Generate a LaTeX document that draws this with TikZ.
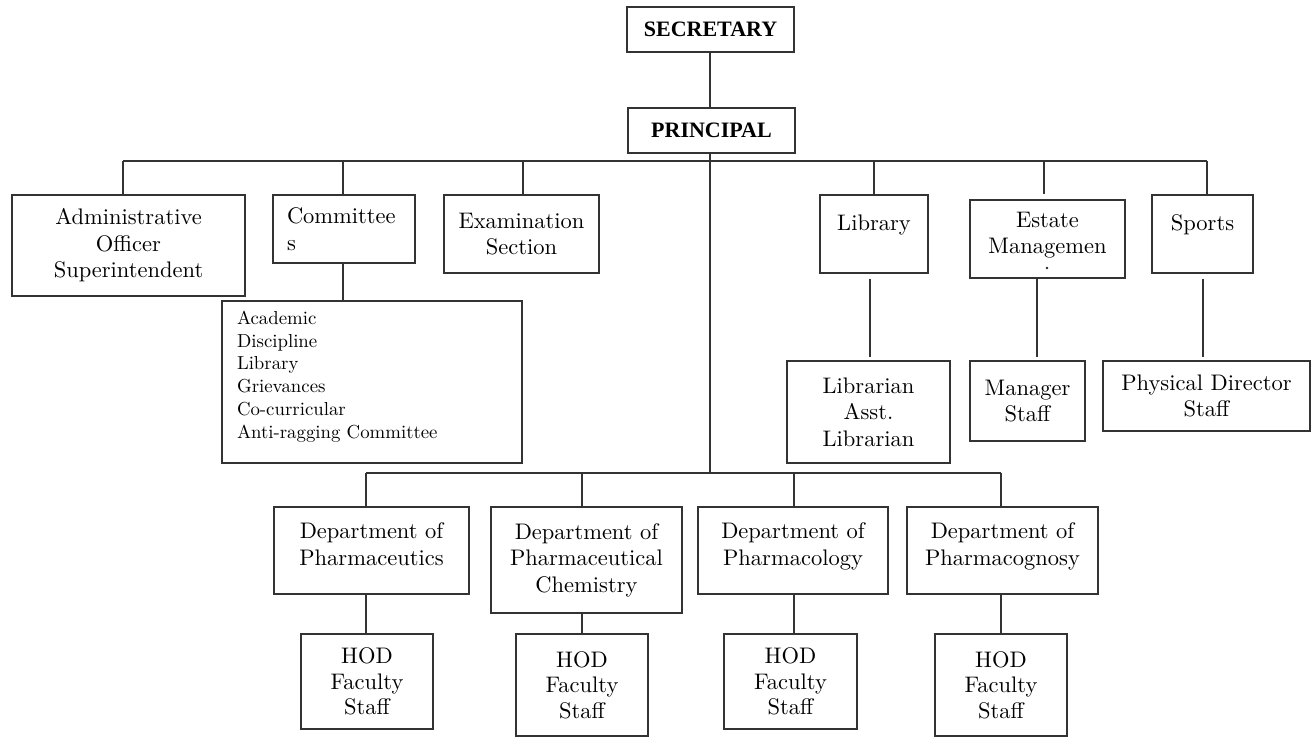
\documentclass[tikz,border=0pt]{standalone}
\usepackage{fontspec}
\setmainfont{lmroman10-regular.otf}[BoldFont=lmroman10-bold.otf]
\newfontfamily\headfont{Liberation Serif}
\usetikzlibrary{calc}
\begin{document}
\begin{tikzpicture}[x=1pt,y=-1pt,
  box/.style={draw=black!80, line width=1.1pt, inner sep=0pt, align=center,
    text=black, font=\fontsize{22.5}{26.5}\selectfont},
  head/.style={box, font=\headfont\bfseries\fontsize{22}{26}\selectfont},
  hodbox/.style={box, font=\fontsize{22.5}{25.5}\selectfont},
  conn/.style={draw=black!80, line width=1.1pt}]
\useasboundingbox (0,0) rectangle (1311,737);
% top
\node[head, minimum width=167pt, minimum height=45pt] (sec) at (710.5,29.5) {SECRETARY};
\node[head, minimum width=167pt, minimum height=45pt] (prin) at (711.5,130.5) {PRINCIPAL};
% second row
\node[box, minimum width=233pt, minimum height=101pt] (admin) at (128.5,245.5) {Administrative\\Officer\\Superintendent};
\node[box, text width=114pt, align=left, inner xsep=14pt, minimum height=68pt] (comm) at (344,229) {Committee\\s};
\node[box, minimum width=155pt, minimum height=78pt] (exam) at (521.5,234) {Examination\\Section};
\node[box, minimum width=108pt, minimum height=78pt] (lib) at (874,234) {Library\\[-4pt]\mbox{}};
\node[box, minimum width=155pt, minimum height=78pt] (estate) at (1047.5,239) {Estate\\Managemen\\[-14pt]\mbox{}};
\fill[black!85] (1047,268) circle (1.3pt);
\node[box, minimum width=101pt, minimum height=78pt] (sports) at (1202.5,234) {Sports\\[-4pt]\mbox{}};
% committees list
\node[box, text width=270pt, align=left, inner xsep=15pt, minimum height=162pt,
  font=\fontsize{18.8}{22.8}\selectfont] (list) at (372,382)
  {Academic\\Discipline\\Library\\Grievances\\Co-curricular\\Anti-ragging Committee\\[-8pt]\mbox{}};
% third row right
\node[box, minimum width=163pt, minimum height=102pt] (librarian) at (868.5,412) {Librarian\\Asst.\\Librarian};
\node[box, minimum width=115pt, minimum height=80pt] (manager) at (1027.5,401) {Manager\\Staff};
\node[box, minimum width=207pt, minimum height=70pt] (phys) at (1206.5,396) {Physical Director\\Staff};
% departments
\node[box, minimum width=195pt, minimum height=87pt] (d1) at (371.5,550.5) {Department of\\Pharmaceutics\\[-14pt]\mbox{}};
\node[box, minimum width=191pt, minimum height=106pt] (d2) at (586.5,560) {Department of\\Pharmaceutical\\Chemistry};
\node[box, minimum width=190pt, minimum height=87pt] (d3) at (793,550.5) {Department of\\Pharmacology\\[-14pt]\mbox{}};
\node[box, minimum width=191pt, minimum height=87pt] (d4) at (1002.5,550.5) {Department of\\Pharmacognosy\\[-14pt]\mbox{}};
\node[hodbox, minimum width=132pt, minimum height=95pt] (h1) at (367,681.5) {HOD\\Faculty\\Staff};
\node[hodbox, minimum width=132pt, minimum height=102pt] (h2) at (582,685) {HOD\\Faculty\\Staff};
\node[hodbox, minimum width=133pt, minimum height=95pt] (h3) at (790.5,681.5) {HOD\\Faculty\\Staff};
\node[hodbox, minimum width=132pt, minimum height=102pt] (h4) at (1001,685) {HOD\\Faculty\\Staff};
% bus coordinates
\coordinate (b1) at (123,161);
\coordinate (b2) at (343,161);
\coordinate (b3) at (523,161);
\coordinate (bp) at (710,161);
\coordinate (b4) at (874,161);
\coordinate (b5) at (1044,161);
\coordinate (b6) at (1207,161);
\coordinate (e1) at (366,473);
\coordinate (e2) at (582,473);
\coordinate (ep) at (710,473);
\coordinate (e3) at (794,473);
\coordinate (e4) at (1001,473);
\coordinate (cx) at (343,0);
\coordinate (lx) at (870,0);
\coordinate (mx) at (1037,0);
\coordinate (sx) at (1203,0);
% connectors
\draw[conn] (sec.south -| bp) -- (prin.north -| bp);
\draw[conn] (b1) -- (b6);
\draw[conn] (prin.south -| bp) -- (ep);
\draw[conn] (b1) -- (b1 |- admin.north);
\draw[conn] (b2) -- (b2 |- comm.north);
\draw[conn] (b3) -- (b3 |- exam.north);
\draw[conn] (b4) -- (b4 |- lib.north);
\draw[conn, shorten >=5pt] (b5) -- (b5 |- estate.north);
\draw[conn] (b6) -- (b6 |- sports.north);
\draw[conn] (cx |- comm.south) -- (cx |- list.north);
\draw[conn, shorten <=5pt, shorten >=3pt] (lx |- lib.south) -- (lx |- librarian.north);
\draw[conn, shorten >=3pt] (mx |- estate.south) -- (mx |- manager.north);
\draw[conn, shorten <=5pt, shorten >=3pt] (sx |- sports.south) -- (sx |- phys.north);
\draw[conn] (e1) -- (e4);
\draw[conn] (e1) -- (e1 |- d1.north);
\draw[conn] (e2) -- (e2 |- d2.north);
\draw[conn] (e3) -- (e3 |- d3.north);
\draw[conn] (e4) -- (e4 |- d4.north);
\draw[conn] (e1 |- d1.south) -- (e1 |- h1.north);
\draw[conn] (e2 |- d2.south) -- (e2 |- h2.north);
\draw[conn] (e3 |- d3.south) -- (e3 |- h3.north);
\draw[conn] (e4 |- d4.south) -- (e4 |- h4.north);
\end{tikzpicture}
\end{document}
